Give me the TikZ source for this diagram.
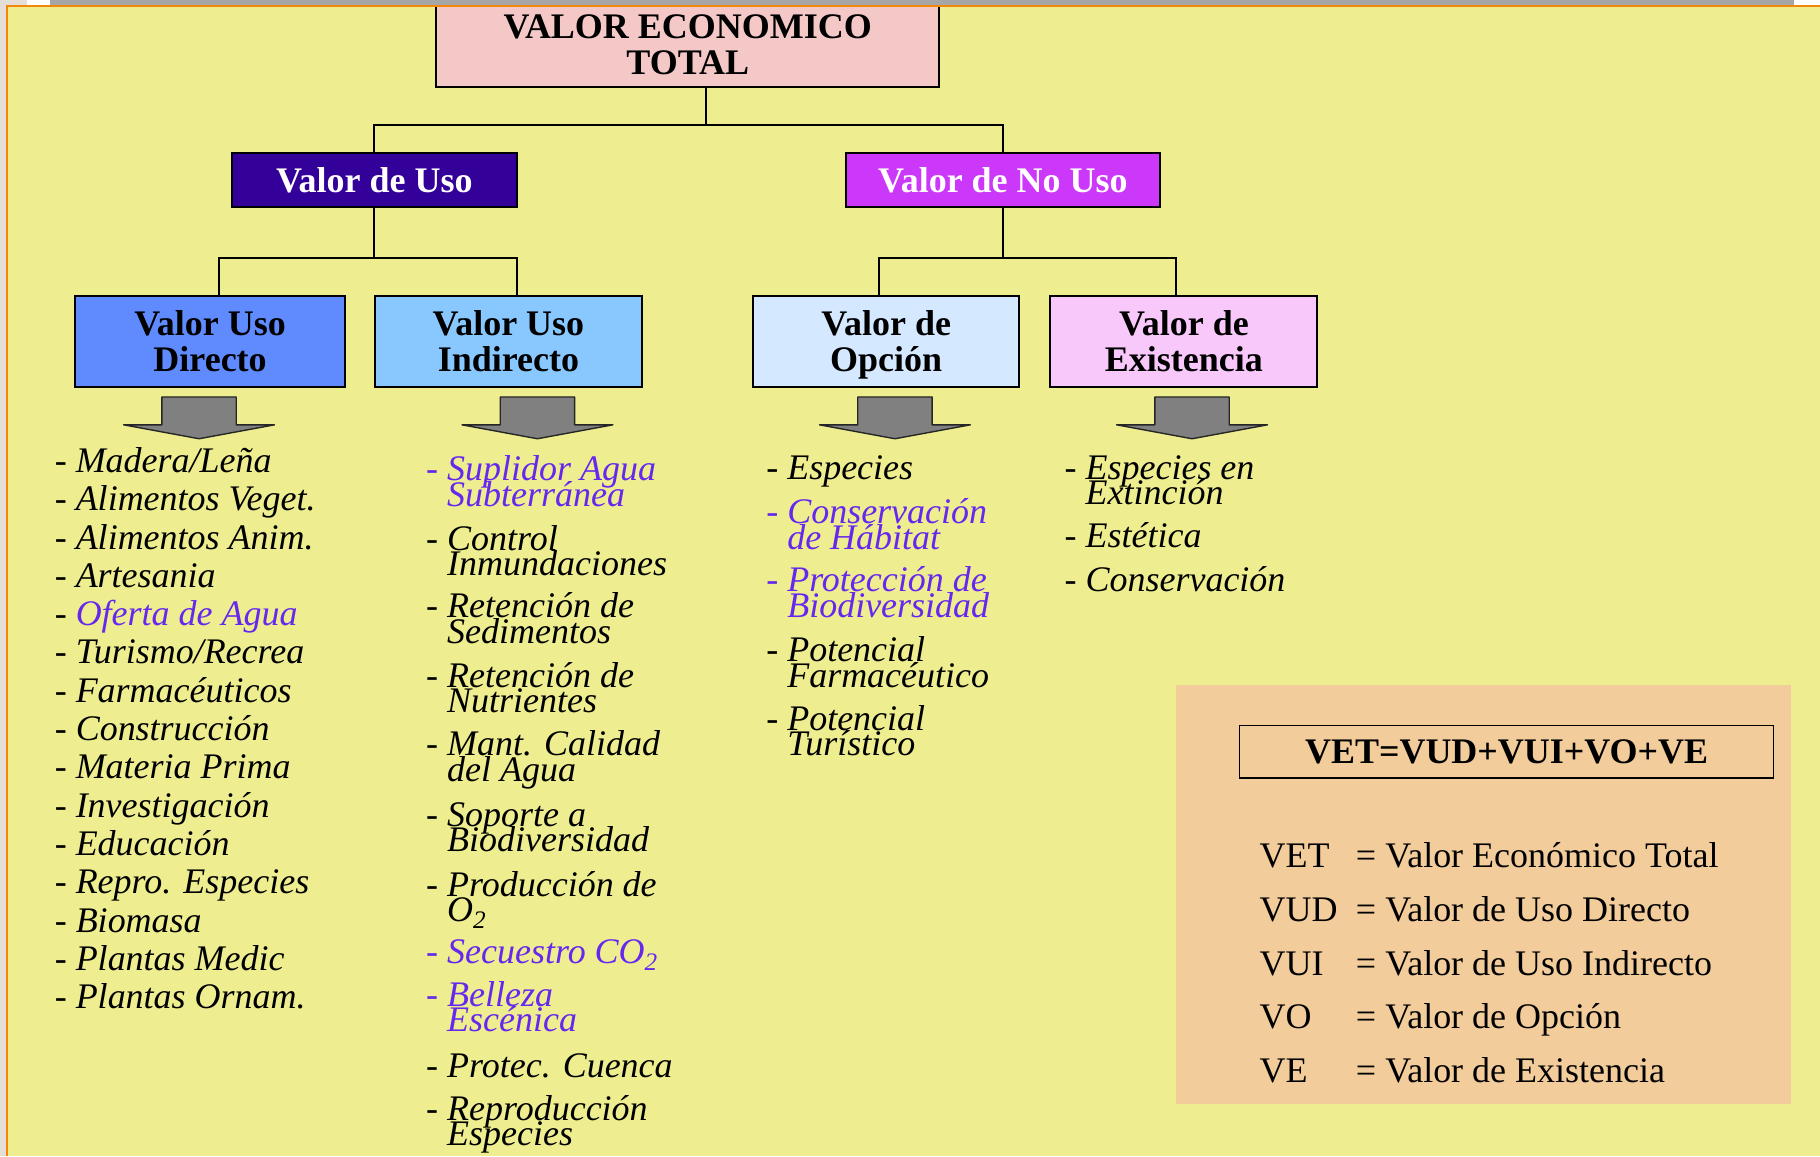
\documentclass[tikz,border=0pt]{standalone}
\usepackage{fontspec}
\setmainfont{Liberation Serif}

\definecolor{fondo}{RGB}{238,238,144}
\definecolor{borde}{RGB}{228,222,214}
\definecolor{barra}{RGB}{166,166,166}
\definecolor{naranja}{RGB}{242,135,10}
\definecolor{rosa}{RGB}{245,200,200}
\definecolor{uso}{RGB}{51,0,153}
\definecolor{nouso}{RGB}{204,56,250}
\definecolor{directo}{RGB}{95,139,255}
\definecolor{indirecto}{RGB}{136,200,255}
\definecolor{opcion}{RGB}{212,232,255}
\definecolor{existencia}{RGB}{248,200,250}
\definecolor{crema}{RGB}{242,204,155}
\definecolor{lila}{RGB}{102,40,238}
\definecolor{flecha}{RGB}{128,128,128}

\begin{document}
\begin{tikzpicture}[x=1pt, y=-1pt,
  caja/.style={draw, line width=1.7pt, inner sep=0pt, align=center,
    font={\fontsize{31}{31}\selectfont\bfseries}},
  linea/.style={line width=1.7pt},
  lst/.style={anchor=base west, inner sep=0pt, align=left,
    font={\fontsize{31}{22}\selectfont\itshape\lineskiplimit=-100pt}},
  ley/.style={anchor=base west, inner sep=0pt, font={\fontsize{31}{31}\selectfont}}]

\useasboundingbox (0,0) rectangle (1568,996);
\fill[naranja] (5,4) rectangle (1568,996);
\fill[fondo] (7,6) rectangle (1568,996);

\node[caja, fill=rosa, minimum width=433, minimum height=73] (vet) at (592.5,38.5) {VALOR ECONOMICO\\TOTAL};
\node[caja, fill=uso, text=white, minimum width=245, minimum height=46] (uso) at (322.5,155) {Valor de Uso};
\node[caja, fill=nouso, text=white, minimum width=270, minimum height=46] (nouso) at (864,155) {Valor de No Uso};
\node[caja, fill=directo, minimum width=232, minimum height=78] (directo) at (181,294) {Valor Uso\\Directo};
\node[caja, fill=indirecto, minimum width=230, minimum height=78] (indirecto) at (438,294) {Valor Uso\\Indirecto};
\node[caja, fill=opcion, minimum width=229, minimum height=78] (opcion) at (763.5,294) {Valor de\\\smash{Opción}};
\node[caja, fill=existencia, minimum width=230, minimum height=78] (existencia) at (1020,294) {Valor de\\Existencia};

\coordinate (j0) at (608,108);
\coordinate (j1) at (322.5,222);
\coordinate (j2) at (864,222);
\draw[linea] (vet.south -| j0) -- (j0);
\draw[linea] (j0) -| (uso.north);
\draw[linea] (j0) -| (nouso.north);
\draw[linea] (uso.south) -- (j1);
\draw[linea] (j1) -| ([xshift=8pt]directo.north);
\draw[linea] (j1) -| ([xshift=7pt]indirecto.north);
\draw[linea] (nouso.south) -- (j2);
\draw[linea] (j2) -| ([xshift=-6.5pt]opcion.north);
\draw[linea] (j2) -| ([xshift=-7pt]existencia.north);

\foreach \ax in {171.5,463,771,1027}
  \filldraw[fill=flecha, draw=black!85, line width=1.2pt, line join=round]
    (\ax-32,342) -- (\ax+32,342) -- (\ax+32,366) -- (\ax+65,366) -- (\ax,378)
    -- (\ax-65,366) -- (\ax-32,366) -- cycle;

\foreach \t [count=\i from 0] in {Madera/Leña, Alimentos Veget., Alimentos Anim., Artesania,
    \textcolor{lila}{Oferta de Agua}, Turismo/Recrea, Farmacéuticos, Construcción, Materia Prima,
    Investigación, Educación, Repro. Especies, Biomasa, Plantas Medic, Plantas Ornam.}
  \node[lst] (d\i) at (47,{407+33*\i}) {- \t};

\node[lst, text=lila] (i1) at (367,436) {- Suplidor Agua\\\hphantom{-\ }Subterránea};
\node[lst] (i2) at (367,496) {- Control\\\hphantom{-\ }Inmundaciones};
\node[lst] (i3) at (367,554) {- Retención de\\\hphantom{-\ }Sedimentos};
\node[lst] (i4) at (367,614) {- Retención de\\\hphantom{-\ }Nutrientes};
\node[lst] (i5) at (367,673) {- Mant. Calidad\\\hphantom{-\ }del Agua};
\node[lst] (i6) at (367,734) {- Soporte a\\\hphantom{-\ }Biodiversidad};
\node[lst] (i7) at (367,794) {- Producción de\\\hphantom{-\ }O\textsubscript{2}};
\node[lst, text=lila] (i8) at (367,830) {- Secuestro CO\textsubscript{2}};
\node[lst, text=lila] (i9) at (367,889) {- Belleza\\\hphantom{-\ }Escénica};
\node[lst] (i10) at (367,928) {- Protec. Cuenca};
\node[lst] (i11) at (367,987) {- Reproducción\\\hphantom{-\ }Especies};

\node[lst] (o1) at (660,413) {- Especies};
\node[lst, text=lila] (o2) at (660,473) {- Conservación\\\hphantom{-\ }de Hábitat};
\node[lst, text=lila] (o3) at (660,532) {- Protección de\\\hphantom{-\ }Biodiversidad};
\node[lst] (o4) at (660,592) {- Potencial\\\hphantom{-\ }Farmacéutico};
\node[lst] (o5) at (660,651) {- Potencial\\\hphantom{-\ }Turístico};

\node[lst] (e1) at (917,435) {- Especies en\\\hphantom{-\ }Extinción};
\node[lst] (e2) at (917,472) {- Estética};
\node[lst] (e3) at (917,510) {- Conservación};

\node[fill=crema, minimum width=530, minimum height=361, inner sep=0pt] (leyenda) at (1278,770.5) {};
\node[draw, line width=1.4pt, minimum width=460, minimum height=45, inner sep=0pt,
  font={\fontsize{31}{31}\selectfont\bfseries}] (formula) at (1298,647.5) {VET=VUD+VUI+VO+VE};
\foreach \ab/\tx [count=\i from 0] in {VET/Valor Económico Total, VUD/Valor de Uso Directo,
    VUI/Valor de Uso Indirecto, VO/Valor de Opción, VE/Valor de Existencia} {
  \node[ley] (ab\i) at (1085,{747+46.5*\i}) {\ab};
  \node[ley] (tx\i) at (1168,{747+46.5*\i}) {= \tx};
}

\fill[borde] (0,0) rectangle (5,996);
\fill[borde] (0,0) rectangle (23,4);
\fill[white] (23,0) rectangle (43,4);
\fill[barra] (43,0) rectangle (1546,4);
\fill[white] (1546,0) rectangle (1568,4);
\fill[naranja] (5,4) rectangle (1568,6);
\fill[naranja] (5,4) rectangle (7,996);
\end{tikzpicture}
\end{document}
